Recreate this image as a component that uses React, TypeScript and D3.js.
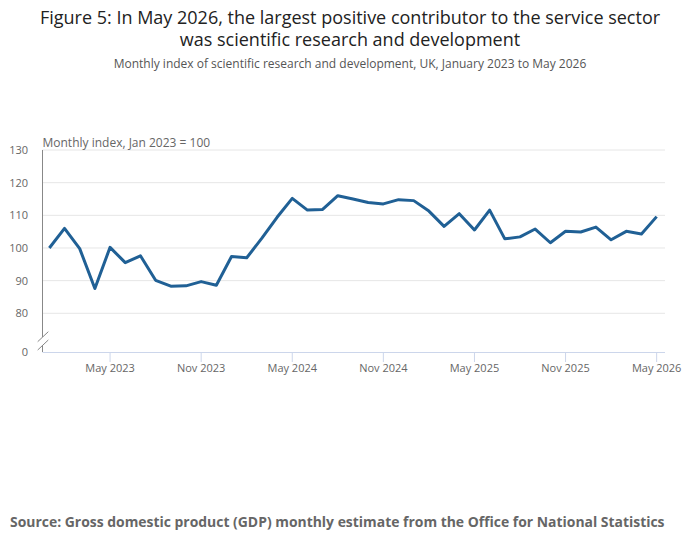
import { line, scaleLinear } from "d3";

const months = [
  "Jan 2023", "Feb 2023", "Mar 2023", "Apr 2023", "May 2023", "Jun 2023", "Jul 2023", "Aug 2023",
  "Sep 2023", "Oct 2023", "Nov 2023", "Dec 2023", "Jan 2024", "Feb 2024", "Mar 2024", "Apr 2024",
  "May 2024", "Jun 2024", "Jul 2024", "Aug 2024", "Sep 2024", "Oct 2024", "Nov 2024", "Dec 2024",
  "Jan 2025", "Feb 2025", "Mar 2025", "Apr 2025", "May 2025", "Jun 2025", "Jul 2025", "Aug 2025",
  "Sep 2025", "Oct 2025", "Nov 2025", "Dec 2025", "Jan 2026", "Feb 2026", "Mar 2026", "Apr 2026",
  "May 2026",
];

const indexValues = [
  100.0, 106.0, 99.8, 87.6, 100.2, 95.5, 97.6, 90.1, 88.3, 88.4, 89.7, 88.6,
  97.4, 97.0, 103.0, 109.4, 115.2, 111.6, 111.8, 116.0, 115.0, 113.9, 113.5, 114.8,
  114.5, 111.3, 106.6, 110.5, 105.5, 111.6, 102.8, 103.4, 105.8, 101.6, 105.1, 104.9,
  106.4, 102.5, 105.1, 104.3, 109.6,
];

const yTicks = [0, 80, 90, 100, 110, 120, 130];
const xTickLabels = ["May 2023", "Nov 2023", "May 2024", "Nov 2024", "May 2025", "Nov 2025", "May 2026"];

const font = "'Open Sans', sans-serif";

export default function App() {
  const width = 700;
  const height = 549;
  const left = 42.5;
  const right = 665;
  const top = 150;
  const bottom = 352;

  const x = scaleLinear().domain([-0.45, months.length - 0.45]).range([left, right]);
  // broken axis: 0 to 80 squeezed, 80 to 130 linear
  const y = scaleLinear().domain([0, 80, 130]).range([bottom, 313.3, top]);

  const path = line<number>()
    .x((_, i) => x(i))
    .y((d) => y(d))(indexValues);

  return (
    <div style={{ position: "absolute", left: 0, top: 0 }}>
      <svg width={width} height={height} style={{ display: "block", fontFamily: font }}>
        <rect width={width} height={height} fill="#ffffff" />
        <text x={350} y={24} textAnchor="middle" fontSize={18} fill="#222">
          Figure 5: In May 2026, the largest positive contributor to the service sector
        </text>
        <text x={350} y={46} textAnchor="middle" fontSize={18} fill="#222">
          was scientific research and development
        </text>
        <text x={350} y={68} textAnchor="middle" fontSize={12} fill="#555">
          Monthly index of scientific research and development, UK, January 2023 to May 2026
        </text>

        {yTicks.filter((t) => t > 0).map((t) => (
          <line key={t} x1={left} x2={right} y1={y(t)} y2={y(t)} stroke="#e6e6e6" />
        ))}
        {yTicks.map((t) => (
          <text key={t} x={28} y={y(t) + 4} textAnchor="end" fontSize={11} fill="#666">
            {t}
          </text>
        ))}
        <text x={left} y={147} fontSize={12} fill="#666">
          Monthly index, Jan 2023 = 100
        </text>

        <line x1={left} x2={right} y1={bottom + 0.5} y2={bottom + 0.5} stroke="#ccd6eb" />
        {xTickLabels.map((lab) => {
          const xi = x(months.indexOf(lab));
          return (
            <g key={lab}>
              <line x1={xi} x2={xi} y1={bottom} y2={bottom + 10} stroke="#ccd6eb" />
              <text x={xi} y={372} textAnchor="middle" fontSize={11} fill="#666">
                {lab}
              </text>
            </g>
          );
        })}

        <line x1={left} x2={left} y1={top} y2={337} stroke="#888" />
        <line x1={left} x2={left} y1={345} y2={bottom} stroke="#888" />
        <line x1={37.7} y1={341.7} x2={48.3} y2={331.7} stroke="#888" />
        <line x1={37.7} y1={350} x2={48.3} y2={340} stroke="#888" />

        <path d={path ?? ""} fill="none" stroke="#206095" strokeWidth={3} strokeLinejoin="round" />

        <text x={10} y={527} fontSize={13.93} fontWeight="bold" fill="#666">
          Source: Gross domestic product (GDP) monthly estimate from the Office for National Statistics
        </text>
      </svg>
    </div>
  );
}
